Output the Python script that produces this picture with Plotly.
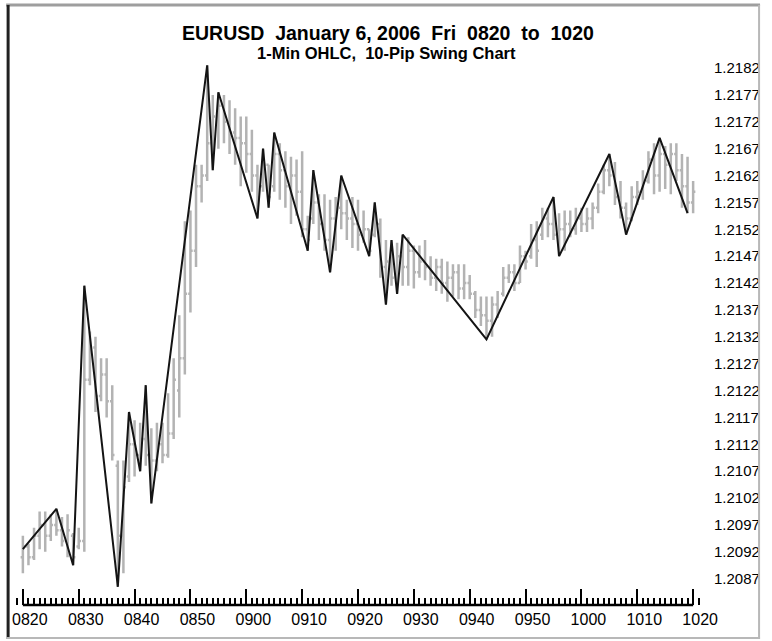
import plotly.graph_objects as go

# 1-minute bars, 0820 to 1020 (minute offsets from 0820)
bar_minute = list(range(121))

bar_open = [
    1.20910, 1.20930, 1.20910, 1.20950, 1.20970, 1.20950, 1.20970, 1.20960, 1.20940, 1.20950,
    1.20930, 1.20940, 1.21240, 1.21300, 1.21210, 1.21250, 1.21200, 1.21080, 1.20950, 1.21060,
    1.21120, 1.21100, 1.21130, 1.21100, 1.21090, 1.21120, 1.21100, 1.21140, 1.21220, 1.21280,
    1.21400, 1.21480, 1.21600, 1.21620, 1.21680, 1.21730, 1.21750, 1.21720, 1.21700, 1.21690,
    1.21680, 1.21660, 1.21620, 1.21600, 1.21640, 1.21600, 1.21660, 1.21630, 1.21600, 1.21620,
    1.21590, 1.21520, 1.21540, 1.21570, 1.21530, 1.21500, 1.21540, 1.21560, 1.21550, 1.21540,
    1.21530, 1.21510, 1.21520, 1.21510, 1.21530, 1.21450, 1.21460, 1.21430, 1.21470, 1.21450,
    1.21480, 1.21440, 1.21460, 1.21450, 1.21430, 1.21450, 1.21420, 1.21430, 1.21440, 1.21410,
    1.21420, 1.21400, 1.21370, 1.21360, 1.21350, 1.21380, 1.21400, 1.21430, 1.21440, 1.21420,
    1.21470, 1.21470, 1.21500, 1.21510, 1.21540, 1.21530, 1.21510, 1.21520, 1.21530, 1.21520,
    1.21540, 1.21530, 1.21540, 1.21560, 1.21590, 1.21630, 1.21620, 1.21580, 1.21560, 1.21540,
    1.21580, 1.21590, 1.21610, 1.21650, 1.21620, 1.21660, 1.21640, 1.21660, 1.21630, 1.21600,
    1.21570,
]
bar_high = [
    1.20950, 1.20935, 1.20965, 1.20995, 1.20995, 1.20990, 1.21000, 1.20985, 1.20990, 1.20955,
    1.20965, 1.21415, 1.21330, 1.21320, 1.21280, 1.21280, 1.21230, 1.21090, 1.21090, 1.21180,
    1.21165, 1.21160, 1.21230, 1.21150, 1.21160, 1.21160, 1.21215, 1.21280, 1.21360, 1.21535,
    1.21555, 1.21640, 1.21640, 1.21825, 1.21770, 1.21775, 1.21770, 1.21760, 1.21745, 1.21730,
    1.21730, 1.21705, 1.21640, 1.21670, 1.21640, 1.21700, 1.21680, 1.21665, 1.21655, 1.21650,
    1.21665, 1.21545, 1.21630, 1.21585, 1.21585, 1.21575, 1.21580, 1.21620, 1.21575, 1.21580,
    1.21575, 1.21555, 1.21520, 1.21570, 1.21540, 1.21500, 1.21500, 1.21495, 1.21510, 1.21505,
    1.21490, 1.21490, 1.21500, 1.21470, 1.21465, 1.21465, 1.21460, 1.21455, 1.21455, 1.21455,
    1.21435, 1.21405, 1.21395, 1.21395, 1.21395, 1.21405, 1.21450, 1.21455, 1.21455, 1.21490,
    1.21480, 1.21530, 1.21535, 1.21560, 1.21560, 1.21580, 1.21550, 1.21555, 1.21555, 1.21560,
    1.21560, 1.21560, 1.21570, 1.21605, 1.21640, 1.21660, 1.21645, 1.21610, 1.21570, 1.21600,
    1.21610, 1.21630, 1.21665, 1.21680, 1.21690, 1.21675, 1.21680, 1.21680, 1.21660, 1.21655,
    1.21610,
]
bar_low = [
    1.20880, 1.20895, 1.20905, 1.20925, 1.20920, 1.20940, 1.20950, 1.20930, 1.20910, 1.20895,
    1.20925, 1.20920, 1.21230, 1.21180, 1.21200, 1.21170, 1.21090, 1.20855, 1.20880, 1.21050,
    1.21060, 1.21070, 1.21080, 1.21010, 1.21070, 1.21085, 1.21095, 1.21130, 1.21170, 1.21250,
    1.21365, 1.21450, 1.21570, 1.21610, 1.21630, 1.21670, 1.21680, 1.21660, 1.21640, 1.21600,
    1.21625, 1.21590, 1.21540, 1.21590, 1.21560, 1.21590, 1.21575, 1.21560, 1.21530, 1.21545,
    1.21505, 1.21480, 1.21530, 1.21500, 1.21480, 1.21440, 1.21480, 1.21520, 1.21500, 1.21485,
    1.21480, 1.21495, 1.21470, 1.21505, 1.21430, 1.21380, 1.21415, 1.21400, 1.21415, 1.21415,
    1.21410, 1.21430, 1.21425, 1.21415, 1.21405, 1.21400, 1.21385, 1.21395, 1.21390, 1.21390,
    1.21390, 1.21355, 1.21340, 1.21315, 1.21320, 1.21355, 1.21395, 1.21420, 1.21405, 1.21420,
    1.21445, 1.21465, 1.21450, 1.21500, 1.21505, 1.21500, 1.21470, 1.21480, 1.21505, 1.21510,
    1.21515, 1.21515, 1.21520, 1.21550, 1.21585, 1.21600, 1.21565, 1.21540, 1.21510, 1.21535,
    1.21565, 1.21575, 1.21605, 1.21585, 1.21590, 1.21595, 1.21585, 1.21610, 1.21560, 1.21550,
    1.21550,
]
bar_close = [
    1.20930, 1.20910, 1.20950, 1.20970, 1.20950, 1.20970, 1.20960, 1.20940, 1.20960, 1.20910,
    1.20940, 1.21240, 1.21300, 1.21210, 1.21250, 1.21200, 1.21100, 1.20950, 1.21040, 1.21120,
    1.21100, 1.21130, 1.21100, 1.21090, 1.21120, 1.21100, 1.21140, 1.21240, 1.21280, 1.21400,
    1.21480, 1.21600, 1.21620, 1.21680, 1.21730, 1.21750, 1.21720, 1.21700, 1.21690, 1.21680,
    1.21660, 1.21620, 1.21580, 1.21640, 1.21580, 1.21660, 1.21630, 1.21600, 1.21620, 1.21590,
    1.21520, 1.21500, 1.21570, 1.21530, 1.21500, 1.21540, 1.21560, 1.21550, 1.21540, 1.21530,
    1.21510, 1.21520, 1.21480, 1.21550, 1.21450, 1.21460, 1.21430, 1.21470, 1.21450, 1.21480,
    1.21440, 1.21460, 1.21450, 1.21430, 1.21450, 1.21420, 1.21430, 1.21440, 1.21410, 1.21420,
    1.21400, 1.21370, 1.21360, 1.21350, 1.21380, 1.21370, 1.21430, 1.21440, 1.21420, 1.21470,
    1.21460, 1.21500, 1.21480, 1.21540, 1.21530, 1.21510, 1.21520, 1.21530, 1.21520, 1.21540,
    1.21530, 1.21540, 1.21560, 1.21590, 1.21630, 1.21620, 1.21580, 1.21560, 1.21540, 1.21580,
    1.21590, 1.21610, 1.21650, 1.21620, 1.21660, 1.21640, 1.21660, 1.21630, 1.21600, 1.21570,
    1.21590,
]

# 10-pip swing points (minute offset, price)
swing_minute = [0, 6, 9, 11, 17, 19, 21, 22, 23, 33, 34, 35, 42, 43, 44, 45, 51,
                52, 55, 57, 62, 63, 65, 66, 67, 68, 83, 95, 96, 105, 108, 114, 119]
swing_price = [1.20925, 1.21000, 1.20895, 1.21415, 1.20855, 1.21180, 1.21070, 1.21230,
               1.21010, 1.21825, 1.21630, 1.21775, 1.21540, 1.21670, 1.21560, 1.21700,
               1.21480, 1.21630, 1.21440, 1.21620, 1.21470, 1.21570, 1.21380, 1.21500,
               1.21400, 1.21510, 1.21315, 1.21580, 1.21470, 1.21660, 1.21510, 1.21690,
               1.21550]

x_tick_minute = [0, 10, 20, 30, 40, 50, 60, 70, 80, 90, 100, 110, 120]
x_tick_labels = ["0820", "0830", "0840", "0850", "0900", "0910", "0920",
                 "0930", "0940", "0950", "1000", "1010", "1020"]
y_tick_labels = ["1.2087", "1.2092", "1.2097", "1.2102", "1.2107", "1.2112", "1.2117",
                 "1.2122", "1.2127", "1.2132", "1.2137", "1.2142", "1.2147", "1.2152",
                 "1.2157", "1.2162", "1.2167", "1.2172", "1.2177", "1.2182"]

title = "EURUSD  January 6, 2006  Fri  0820  to  1020"
subtitle = "1-Min OHLC,  10-Pip Swing Chart"

FONT = "Liberation Sans"
W, H = 772, 641
L, R, T, B = 12, 709, 55, 605   # plot area in pixels


def px_x(px):
    return (px - L) / (R - L)


def px_y(py):
    return (B - py) / (B - T)


bar_style = dict(line=dict(color="#b3b3b3", width=2.5))

fig = go.Figure()
fig.add_trace(go.Ohlc(
    x=bar_minute, open=bar_open, high=bar_high, low=bar_low, close=bar_close,
    increasing=bar_style, decreasing=bar_style, tickwidth=0.4,
    showlegend=False, hoverinfo="skip",
))
fig.add_trace(go.Scatter(
    x=swing_minute, y=swing_price, mode="lines",
    line=dict(color="#141414", width=2), showlegend=False, hoverinfo="skip",
))

# time axis baseline spans only 0820..1020
fig.add_shape(type="line", xref="x", yref="paper", x0=0, x1=120, y0=0, y1=0,
              line=dict(color="black", width=2.5))

# window frame
frame = [
    ((3, 5), (769, 5), "#9e9e9e", 3),
    ((5, 5), (5, 639), "#202020", 3),
    ((768, 5), (768, 639), "#b8b8b8", 2),
    ((3, 638), (769, 638), "#b8b8b8", 2),
]
for (ax, ay), (bx, by), col, w in frame:
    fig.add_shape(type="line", xref="paper", yref="paper",
                  x0=px_x(ax), y0=px_y(ay), x1=px_x(bx), y1=px_y(by),
                  line=dict(color=col, width=w))

fig.add_annotation(text=f"<b>{title}</b>", xref="paper", yref="paper",
                   x=px_x(391), y=px_y(33), xanchor="center", yanchor="middle",
                   showarrow=False, font=dict(family=FONT, size=19.5, color="black"))
fig.add_annotation(text=f"<b>{subtitle}</b>", xref="paper", yref="paper",
                   x=px_x(389), y=px_y(53), xanchor="center", yanchor="middle",
                   showarrow=False, font=dict(family=FONT, size=16.5, color="black"))

x_lo = -(20 - L) / 5.675
x_hi = (R - 20) / 5.675
y_tick_vals = [float(s) for s in y_tick_labels]

fig.update_layout(
    width=W, height=H,
    margin=dict(l=L, r=W - R, t=T, b=H - B),
    paper_bgcolor="white", plot_bgcolor="white",
    font=dict(family=FONT, color="black"),
    xaxis=dict(
        range=[x_lo, x_hi], rangeslider=dict(visible=False),
        tickmode="array", tickvals=x_tick_minute, ticktext=x_tick_labels,
        ticks="inside", ticklen=16, tickwidth=2, tickcolor="black",
        minor=dict(tickmode="linear", tick0=0, dtick=1, ticks="inside",
                   ticklen=7, tickwidth=1.5, tickcolor="black", showgrid=False),
        showgrid=False, zeroline=False, showline=False,
        tickfont=dict(family=FONT, size=16, color="black"),
        ticklabelshift=7, ticklabelstandoff=3,
    ),
    yaxis=dict(
        side="right", range=[1.208211, 1.218442],
        tickmode="array", tickvals=y_tick_vals, ticktext=y_tick_labels,
        ticks="", showgrid=False, zeroline=False, showline=False,
        tickfont=dict(family=FONT, size=15, color="black"),
        ticklabelstandoff=12,
    ),
)

fig.write_html("out.html", config={"displayModeBar": False},
               post_script="document.body.style.margin = '0';")
